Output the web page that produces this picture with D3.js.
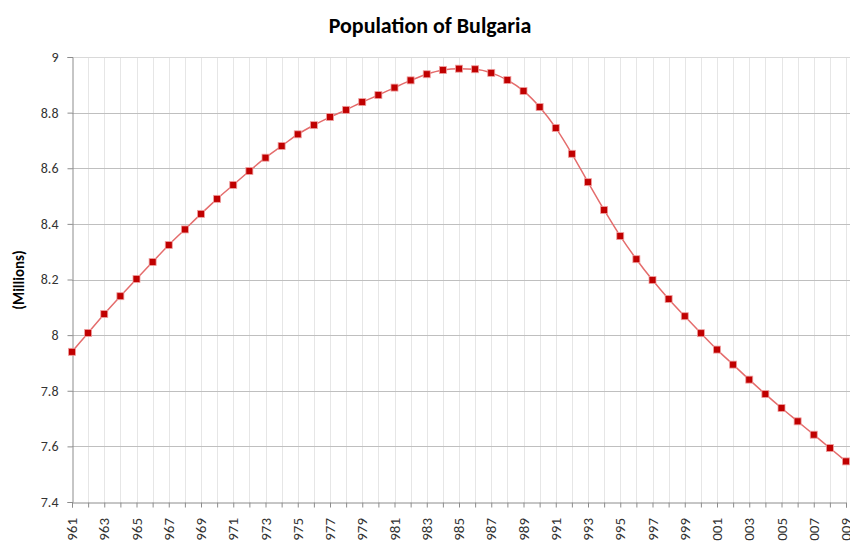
<!DOCTYPE html>
<html>
<head>
<meta charset="utf-8">
<script src="https://cdn.jsdelivr.net/npm/d3@7"></script>
<style>
  body { margin: 0; background: white; }
  svg { display: block; }
</style>
</head>
<body>
<svg id="chart" width="850" height="541"></svg>
<script>
////////////////////////////////////////////////////////////////////////////////////
// Data (millions)
var years = d3.range(1961, 2010);
var population = [
  7.940, 8.008, 8.076, 8.140, 8.202, 8.263, 8.324, 8.380, 8.436, 8.490,
  8.540, 8.590, 8.638, 8.680, 8.722, 8.755, 8.784, 8.810, 8.838, 8.863,
  8.890, 8.916, 8.938, 8.953, 8.958, 8.956, 8.943, 8.917, 8.878, 8.820,
  8.745, 8.652, 8.550, 8.450, 8.356, 8.273, 8.198, 8.130, 8.068, 8.007,
  7.948, 7.894, 7.840, 7.788, 7.738, 7.690, 7.642, 7.594, 7.546
];
var yTicks = [7.4, 7.6, 7.8, 8, 8.2, 8.4, 8.6, 8.8, 9];

var dataset = years.map(function(d, i) { return [d, population[i]]; });

////////////////////////////////////////////////////////////////////////////////////
// Setup
var svg = d3.select("#chart");
var plotLeft = 72, plotRight = 846, plotTop = 57, plotBottom = 502;
var font = "Calibri, 'Liberation Sans', Arial, sans-serif";

var xScale = d3.scaleLinear().domain([1961, 2009]).range([plotLeft, plotRight]);
var yScale = d3.scaleLinear().domain([7.4, 9]).range([plotBottom, plotTop]);

// vertical grid (every year)
svg.append("g")
   .selectAll("line")
   .data(years.slice(1))
   .enter()
   .append("line")
   .attr("x1", function(d) { return Math.round(xScale(d)) + 0.5; })
   .attr("x2", function(d) { return Math.round(xScale(d)) + 0.5; })
   .attr("y1", plotTop)
   .attr("y2", plotBottom)
   .style("stroke", "#e6e6e6")
   .style("stroke-width", 1);

// horizontal grid
svg.append("g")
   .selectAll("line")
   .data(yTicks.slice(1))
   .enter()
   .append("line")
   .attr("x1", plotLeft)
   .attr("x2", 850)
   .attr("y1", function(d) { return Math.round(yScale(d)) + 0.5; })
   .attr("y2", function(d) { return Math.round(yScale(d)) + 0.5; })
   .style("stroke", function(d) { return d == 9 ? "#d9d9d9" : "#bfbfbf"; })
   .style("stroke-width", 1.2);

// y axis
var yAxis = d3.axisLeft(yScale)
              .tickValues(yTicks)
              .tickSize(5)
              .tickPadding(9)
              .tickFormat(function(d) { return d3.format("")(+d.toFixed(1)); });
var yAxisG = svg.append("g")
                .attr("transform", "translate(" + (plotLeft + 0.5) + ",0)")
                .call(yAxis);
yAxisG.select(".domain").style("stroke", "#8c8c8c");
yAxisG.selectAll(".tick line").style("stroke", "#8c8c8c");
yAxisG.selectAll(".tick text")
      .style("font-family", font)
      .style("font-size", "14px")
      .style("fill", "#333");

// x axis
var xAxis = d3.axisBottom(xScale)
              .tickValues(years)
              .tickSize(5)
              .tickFormat("");
var xAxisG = svg.append("g")
                .attr("transform", "translate(0," + (plotBottom + 0.5) + ")")
                .call(xAxis);
xAxisG.select(".domain").style("stroke", "#8c8c8c");
xAxisG.selectAll(".tick line").style("stroke", "#8c8c8c");

// rotated year labels (every other year), cut off at the bottom edge like the source
svg.append("g")
   .selectAll("text")
   .data(years.filter(function(d) { return (d - 1961) % 2 == 0; }))
   .enter()
   .append("text")
   .attr("transform", function(d) {
     return "translate(" + (xScale(d) + 5) + "," + 518 + ") rotate(-90)";
   })
   .attr("text-anchor", "end")
   .style("font-family", font)
   .style("font-size", "15px")
   .style("fill", "#333")
   .text(function(d) { return d; });

////////////////////////////////////////////////////////////////////////////////////
// Line and markers
var line = d3.line()
             .x(function(d) { return xScale(d[0]); })
             .y(function(d) { return yScale(d[1]); })
             .curve(d3.curveMonotoneX);

svg.append("path")
   .datum(dataset)
   .attr("d", line)
   .style("fill", "none")
   .style("stroke", "#e46c6c")
   .style("stroke-width", 1.5);

svg.append("g")
   .selectAll("rect")
   .data(dataset)
   .enter()
   .append("rect")
   .attr("x", function(d) { return xScale(d[0]) - 3.5; })
   .attr("y", function(d) { return yScale(d[1]) - 3.5; })
   .attr("width", 7)
   .attr("height", 7)
   .style("fill", "#c00000")
   .style("stroke", "#f0a0a0")
   .style("stroke-width", 0.8);

////////////////////////////////////////////////////////////////////////////////////
// Titles
svg.append("text")
   .attr("x", 430)
   .attr("y", 33)
   .attr("text-anchor", "middle")
   .style("font-family", font)
   .style("font-weight", "bold")
   .style("font-size", "22px")
   .style("fill", "#000")
   .text("Population of Bulgaria");

svg.append("text")
   .attr("transform", "translate(24,280) rotate(-90)")
   .attr("text-anchor", "middle")
   .style("font-family", font)
   .style("font-weight", "bold")
   .style("font-size", "15px")
   .style("fill", "#000")
   .text("(Millions)");
</script>
</body>
</html>
